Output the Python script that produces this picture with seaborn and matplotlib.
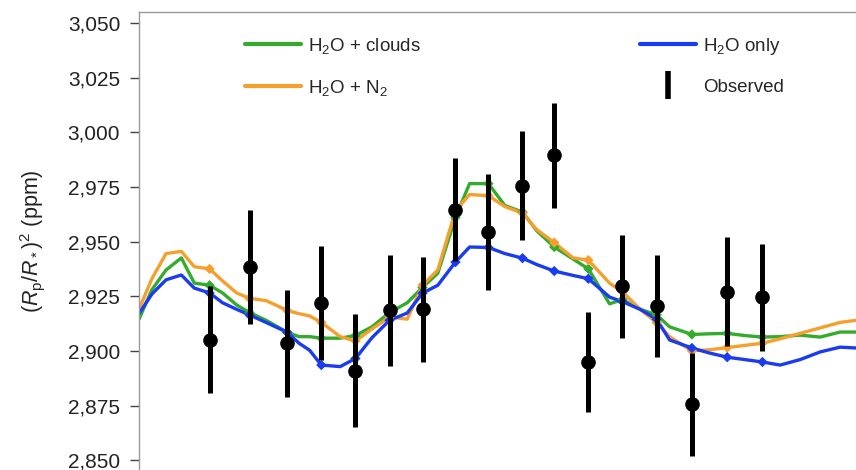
import matplotlib
matplotlib.use("Agg")
import matplotlib.pyplot as plt
from matplotlib.lines import Line2D
from matplotlib.ticker import FuncFormatter, FixedLocator
import numpy as np
import pandas as pd
import seaborn as sns

# Wavelength grid of the model spectra (micron)
wavelength = [1.080, 1.091, 1.103, 1.116, 1.127, 1.140, 1.151, 1.163, 1.174, 1.188,
              1.206, 1.216, 1.225, 1.235, 1.251, 1.264, 1.278, 1.293, 1.308, 1.321,
              1.334, 1.349, 1.361, 1.377, 1.391, 1.406, 1.418, 1.433, 1.449, 1.462,
              1.480, 1.491, 1.506, 1.520, 1.531, 1.550, 1.565, 1.580, 1.595, 1.610,
              1.625, 1.642, 1.659, 1.676, 1.690]

# Model transit depths (ppm)
h2o_clouds = [2914.5, 2928.0, 2937.0, 2942.5, 2931.0, 2930.0, 2926.5, 2921.0, 2917.5, 2914.0,
              2908.5, 2906.5, 2906.5, 2905.8, 2905.8, 2907.0, 2911.0, 2917.5, 2922.0, 2929.0,
              2935.5, 2961.0, 2976.5, 2976.5, 2966.5, 2963.5, 2955.0, 2947.5, 2942.0, 2937.5,
              2921.5, 2923.5, 2919.0, 2916.5, 2911.0, 2907.5, 2907.8, 2908.0, 2907.0, 2906.3,
              2906.5, 2907.2, 2906.3, 2908.6, 2908.6]
h2o_n2 = [2919.0, 2933.0, 2944.5, 2945.5, 2938.5, 2937.5, 2932.0, 2926.5, 2924.0, 2923.0,
          2918.5, 2917.0, 2916.0, 2913.0, 2906.5, 2904.5, 2910.0, 2915.5, 2914.5, 2930.0,
          2937.0, 2964.0, 2971.5, 2971.0, 2966.0, 2963.0, 2955.5, 2949.5, 2942.5, 2941.5,
          2931.0, 2927.0, 2919.0, 2913.0, 2906.5, 2900.0, 2900.5, 2901.5, 2902.5, 2903.5,
          2905.5, 2908.0, 2910.5, 2913.0, 2914.0]
h2o_only = [2917.0, 2926.0, 2932.5, 2934.7, 2928.7, 2926.5, 2922.0, 2919.0, 2916.4, 2913.0,
            2908.5, 2903.5, 2900.3, 2893.5, 2892.8, 2896.5, 2906.0, 2914.0, 2917.3, 2926.4,
            2930.0, 2940.6, 2947.5, 2947.3, 2944.5, 2942.4, 2939.5, 2936.5, 2934.5, 2933.0,
            2924.6, 2922.5, 2919.0, 2914.5, 2905.0, 2901.3, 2899.0, 2897.1, 2896.0, 2894.9,
            2893.5, 2896.0, 2899.5, 2901.7, 2901.3]

# Observed spectrum
obs_wavelength = [1.140, 1.174, 1.206, 1.235, 1.264, 1.293, 1.321, 1.349, 1.377,
                  1.406, 1.433, 1.462, 1.491, 1.520, 1.550, 1.580, 1.610]
obs_depth = [2905.0, 2938.5, 2903.5, 2922.0, 2891.0, 2918.5, 2919.0, 2964.5, 2954.5,
             2975.5, 2989.5, 2895.0, 2929.5, 2920.5, 2875.5, 2927.0, 2924.5]
obs_error = [24.5, 26.0, 24.5, 26.0, 26.0, 25.5, 24.0, 23.5, 26.5,
             25.0, 24.0, 23.0, 23.5, 23.5, 23.5, 25.0, 24.5]

y_ticks = [2850, 2875, 2900, 2925, 2950, 2975, 3000, 3025, 3050]

model_names = ["H2O + clouds", "H2O + N2", "H2O only"]
model_labels = [r"H$_2$O + clouds", r"H$_2$O + N$_2$", r"H$_2$O only"]
colors = {"H2O + clouds": "#35ab2e", "H2O + N2": "#f5a02e", "H2O only": "#1a3cf0"}

models = pd.DataFrame({
    "wavelength": wavelength * 3,
    "depth": h2o_clouds + h2o_n2 + h2o_only,
    "model": np.repeat(model_names, len(wavelength)),
})
binned = models[models["wavelength"].isin(obs_wavelength)]

sns.set_theme(style="ticks")
plt.rcParams["font.family"] = ["Liberation Sans", "DejaVu Sans"]
plt.rcParams["mathtext.fontset"] = "custom"
plt.rcParams["mathtext.rm"] = "Liberation Sans"
plt.rcParams["mathtext.it"] = "Liberation Sans:italic"
plt.rcParams["mathtext.bf"] = "Liberation Sans:bold"

fig = plt.figure(figsize=(8.56, 4.70), dpi=100)
ax = fig.add_axes([139 / 856, 0.0, 717 / 856, 458 / 470])

sns.lineplot(data=models, x="wavelength", y="depth", hue="model", palette=colors,
             hue_order=model_names, lw=2.4, legend=False, ax=ax, sort=False)
sns.scatterplot(data=binned, x="wavelength", y="depth", hue="model", palette=colors,
                hue_order=model_names, marker="D", s=28, linewidth=0, legend=False,
                ax=ax, zorder=3)

ax.errorbar(obs_wavelength, obs_depth, yerr=obs_error, fmt="o", color="black",
            ms=9.5, elinewidth=3.6, capsize=0, zorder=5)

ax.set_xlim(1.080, 1.6895)
ax.set_ylim(2845.5, 3055)
ax.yaxis.set_major_locator(FixedLocator(y_ticks))
ax.yaxis.set_major_formatter(FuncFormatter(lambda v, _: f"{v:,.0f}"))
ax.set_xticks([])
ax.set_xlabel("")
ax.set_ylabel(r"$(R_\mathrm{p}/R_*)^2$ (ppm)", fontsize=15.5, labelpad=15, color="#222222")
ax.tick_params(axis="y", direction="out", length=6.5, width=1, color="#444444",
               labelsize=15, labelcolor="#222222", pad=7)

for side in ["bottom", "right"]:
    ax.spines[side].set_visible(False)
for side in ["left", "top"]:
    ax.spines[side].set_color("#999999")
    ax.spines[side].set_linewidth(1.0)

handles = [
    Line2D([], [], color=colors["H2O + clouds"], lw=3),
    Line2D([], [], color=colors["H2O + N2"], lw=3),
    Line2D([], [], color=colors["H2O only"], lw=3),
    Line2D([], [], ls="none", marker="|", ms=20, mew=4, color="black"),
]
labels = [model_labels[0], model_labels[1], model_labels[2], "Observed"]
fig.legend(handles, labels, loc="upper left", bbox_to_anchor=(245 / 856, 1 - 36 / 470),
           ncol=2, frameon=False, fontsize=13.5, handlelength=3.0, handletextpad=0.35,
           columnspacing=11.7, labelspacing=1.15, borderpad=0, borderaxespad=0)

fig.savefig("out.png", dpi=100, facecolor="white")
